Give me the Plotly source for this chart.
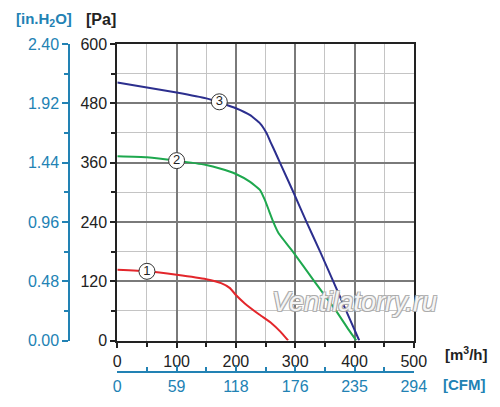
import plotly.graph_objects as go

# fan curves, airflow [m3/h] vs static pressure [Pa]
flow_1 = [0, 50, 100, 150, 175, 190, 200, 215, 240, 260, 275, 288]
pres_1 = [143, 140, 133, 124, 116, 106, 92, 75, 52, 35, 18, 0]

flow_2 = [0, 50, 100, 150, 173, 200, 224, 241, 249, 256, 263, 272, 296, 332, 369, 390, 403]
pres_2 = [373, 371, 364, 355, 348, 337, 321, 304, 284, 262, 240, 217, 180, 120, 60, 22, 0]

flow_3 = [0, 50, 100, 150, 200, 224, 241, 252, 259, 266, 275, 297, 319, 342, 364, 386, 408]
pres_3 = [522, 512, 502, 490, 470, 456, 439, 419, 400, 382, 358, 300, 240, 180, 120, 60, 0]

# curve number badges
badge_x = [50, 100, 172]
badge_y = [140, 364, 483]
badge_txt = ["1", "2", "3"]

cfm_ticks = ["0", "59", "118", "176", "235", "294"]
flow_ticks = [0, 100, 200, 300, 400, 500]

BLUE = "#2282b4"
FONT = "Liberation Sans, Arial, sans-serif"

# page has an 8px body margin, so lay things out 8px up/left
OFF = 8
W, H = 500, 407
ML, MR, MT, MB = 10, 10, 44 - OFF, 10
PW, PH = W - ML - MR, H - MT - MB


def fx(px):
    return (px - OFF - ML) / PW


def fy(py):
    return (H - MB - (py - OFF)) / PH


fig = go.Figure()
for xs, ys, col in [(flow_1, pres_1, "#e3262b"),
                    (flow_2, pres_2, "#1ea84e"),
                    (flow_3, pres_3, "#2c2f8e")]:
    fig.add_trace(go.Scatter(x=xs, y=ys, mode="lines",
                             line=dict(color=col, width=2, shape="spline", smoothing=0.4)))

fig.add_trace(go.Scatter(
    x=badge_x, y=badge_y, mode="markers+text", text=badge_txt,
    textposition="middle center",
    textfont=dict(family=FONT, size=13, color="#222"),
    marker=dict(size=16, color="white", line=dict(color="#333", width=1)),
))

# dummy trace so the secondary axes are drawn
fig.add_trace(go.Scatter(x=[0], y=[0], xaxis="x2", yaxis="y2", mode="markers",
                         marker=dict(opacity=0), hoverinfo="skip"))

fig.update_layout(
    width=W, height=H,
    margin=dict(l=ML, r=MR, t=MT, b=MB),
    paper_bgcolor="white", plot_bgcolor="white",
    showlegend=False,
    font=dict(family=FONT, size=16, color="#222"),
    xaxis=dict(
        domain=[fx(117.3), fx(413.8)], range=[0, 500], dtick=100, automargin=False,
        showline=True, linecolor="#222", linewidth=2, mirror=True,
        ticks="outside", ticklen=5, tickcolor="#222", tickwidth=2,
        showgrid=True, gridcolor="#7a7a7a", gridwidth=1.5, zeroline=False,
        minor=dict(dtick=50, showgrid=True, gridcolor="#c4c4c4", gridwidth=1,
                   ticks="outside", ticklen=4, tickcolor="#222", tickwidth=2),
        anchor="y",
    ),
    yaxis=dict(
        domain=[fy(340.5), 1.0], range=[0, 600], dtick=120, automargin=False,
        showline=True, linecolor="#222", linewidth=2, mirror=True,
        ticks="outside", ticklen=5, tickcolor="#222", tickwidth=2,
        showgrid=True, gridcolor="#7a7a7a", gridwidth=1.5, zeroline=False,
        minor=dict(dtick=60, showgrid=True, gridcolor="#c4c4c4", gridwidth=1,
                   ticks="outside", ticklen=4, tickcolor="#222", tickwidth=2),
        anchor="x",
    ),
    xaxis2=dict(
        overlaying="x", anchor="free", position=fy(371.7), side="bottom",
        range=[0, 500], tickvals=flow_ticks, ticktext=cfm_ticks, automargin=False,
        showline=True, linecolor=BLUE, linewidth=2,
        ticks="inside", ticklen=6, tickcolor=BLUE, tickwidth=2,
        minor=dict(dtick=50, ticks="inside", ticklen=4, tickcolor=BLUE, tickwidth=2),
        showgrid=False, zeroline=False,
        tickfont=dict(color=BLUE, size=16),
    ),
    yaxis2=dict(
        overlaying="y", anchor="free", position=fx(69.3), side="left",
        range=[0, 2.4], dtick=0.48, tickformat=".2f", automargin=False,
        showline=True, linecolor=BLUE, linewidth=2,
        ticks="outside", ticklen=6, tickcolor=BLUE, tickwidth=2,
        minor=dict(dtick=0.24, ticks="outside", ticklen=4, tickcolor=BLUE, tickwidth=2),
        showgrid=False, zeroline=False,
        tickfont=dict(color=BLUE, size=16),
    ),
)

notes = [
    ("<b>[Pa]</b>", 84, 20, 16, "#222", "left"),
    ("<b>[in.H<sub>2</sub>O]</b>", 14, 20, 15, BLUE, "left"),
    ("<b>[m<sup>3</sup>/h]</b>", 443, 353, 15, "#222", "left"),
    ("<b>[CFM]</b>", 441, 384, 15, BLUE, "left"),
]
for txt, x, y, size, col, anc in notes:
    fig.add_annotation(text=txt, x=fx(x), y=fy(y), xref="paper", yref="paper",
                       showarrow=False, xanchor=anc, yanchor="middle",
                       font=dict(size=size, color=col))

fig.add_annotation(
    text="<i>Ventilatorry.ru</i>", x=fx(354), y=fy(302), xref="paper", yref="paper",
    showarrow=False, xanchor="center", yanchor="middle",
    font=dict(size=27, color="rgba(255,255,255,0.9)",
              shadow="1px 1px 0 #a8a8a8, -1px -1px 0 #a8a8a8, "
                     "1px -1px 0 #a8a8a8, -1px 1px 0 #a8a8a8"),
)

fig.write_html("out.html")
